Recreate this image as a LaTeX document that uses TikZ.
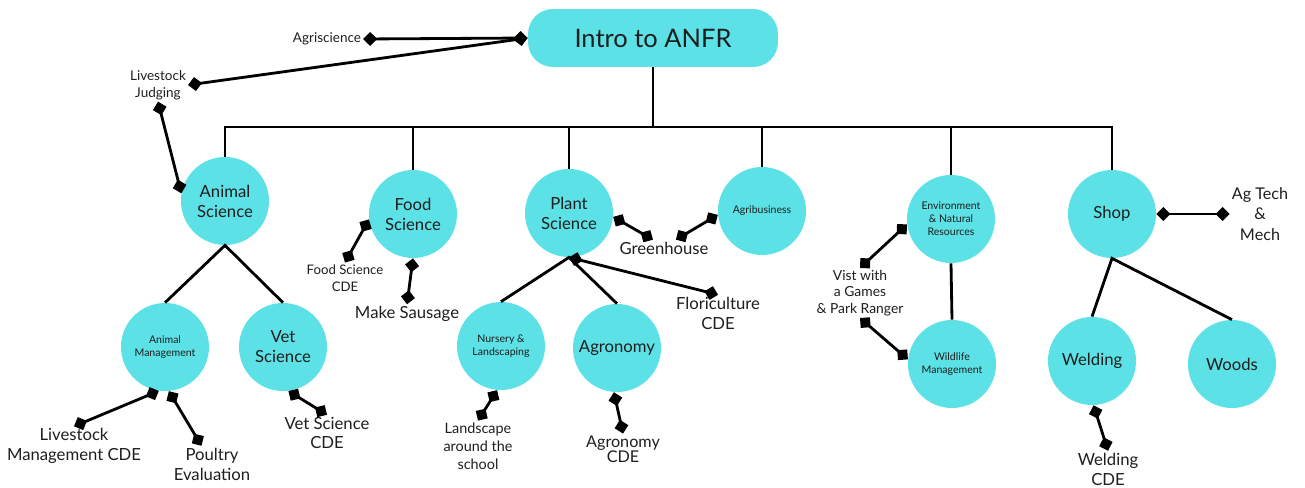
\documentclass[tikz,border=0pt]{standalone}
\usepackage{fontspec}
\setmainfont{Lato}
\usepackage{tikz}
\usetikzlibrary{arrows.meta}
\usetikzlibrary{calc}
\usetikzlibrary{positioning}

\definecolor{anfr}{HTML}{5CE1E6}
\definecolor{ink}{HTML}{1E1E1E}

\begin{document}
\begin{tikzpicture}[
	x=0.02cm, y=-0.02cm,
  hub/.style = {rectangle, rounded corners=0.5cm, fill=anfr, minimum width=5cm, minimum height=1.16cm, text=ink, font=\fontsize{14.5}{17}\selectfont},
  area/.style = {circle, fill=anfr, minimum size=1.76cm, inner sep=0pt, align=center, text=ink, font=\fontsize{9.5}{11.3}\selectfont},
  minor/.style = {area, font=\fontsize{6}{7.4}\selectfont},
  note/.style = {align=center, inner sep=1pt, text=ink, font=\fontsize{9.5}{11.3}\selectfont},
  small note/.style = {note, font=\fontsize{7.7}{9.4}\selectfont},
  trunk/.style = {line width=1.6pt},
  link/.style = {line width=1.6pt, {Diamond[length=8pt,width=8pt]}-{Diamond[length=8pt,width=8pt]}}
  ]
	\useasboundingbox (0,0) rectangle (1305,487);

	\node[hub] (anfr) at (653,38) {Intro to ANFR};

	\node[area]  (animal)   at (225,201)  {Animal\\Science};
	\node[area]  (food)     at (413,214)  {Food\\Science};
	\node[area]  (plant)    at (569,213)  {Plant\\Science};
	\node[minor] (agbiz)    at (762,211)  {Agribusiness};
	\node[minor] (env)      at (951,219)  {Environment\\\& Natural\\Resources};
	\node[area]  (shop)     at (1112,214) {Shop};
	\node[minor] (anmgmt)   at (165,347)  {Animal\\Management};
	\node[area]  (vet)      at (283,347)  {Vet\\Science};
	\node[minor] (nursery)  at (501,346)  {Nursery \&\\Landscaping};
	\node[area]  (agron)    at (617,348)  {Agronomy};
	\node[minor] (wildlife) at (952,364)  {Wildlife\\Management};
	\node[area]  (welding)  at (1092,361) {Welding};
	\node[area]  (woods)    at (1232,364) {Woods};

	% labels
	\node[small note] (agsci)  at (327,39)  {Agriscience};
	\node[small note] (ljudge) at (158,85)  {Livestock\\Judging};
	\node[small note, font=\fontsize{7.5}{9.6}\selectfont] (fscde) at (345,278) {Food Science\\CDE};
	\node[note] (sausage)   at (407,314)  {Make Sausage};
	\node[note] (greenhouse) at (664,248) {Greenhouse};
	\node[note] (flori)     at (718,313)  {Floriculture\\CDE};
	\node[note] (lmcde)     at (74,446)   {Livestock\\Management CDE};
	\node[note] (poultry)   at (212,464)  {Poultry\\Evaluation};
	\node[note] (vetcde)    at (327,433)  {Vet Science\\CDE};
	\node[note, font=\fontsize{8.2}{10.2}\selectfont] (landscape) at (478,446) {Landscape\\around the\\school};
	\node[note, font=\fontsize{9.2}{8.5}\selectfont] (agcde) at (623,449) {Agronomy\\CDE};
	\node[small note, font=\fontsize{7.9}{9.4}\selectfont] (vist) at (860,293) {Vist with\\a Games\\\& Park Ranger};
	\node[note, font=\fontsize{9.2}{11.6}\selectfont] (agtech) at (1260,214) {Ag Tech\\\&\\Mech};
	\node[note] (weldcde)   at (1108,469) {Welding\\CDE};

	% tree
	\coordinate (bar) at (653,127);
	\draw[trunk] (anfr.south) -- (anfr |- bar);
	\draw[trunk] (animal.north) |- (bar) -| (shop.north);
	\foreach \n in {food,plant,agbiz,env}
		\draw[trunk] (\n.north) -- (\n |- bar);
	\draw[trunk] (anmgmt.north) -- (animal.south) -- (vet.north);
	\draw[trunk] (nursery.north) -- (plant.south) -- (agron.north);
	\draw[trunk] (env.south) -- (wildlife.north);
	\draw[trunk] (welding.north) -- (shop.south) -- (woods.north);

	% diamond links
	\draw[link] (agsci.east) -- (anfr.west);
	\draw[link] (ljudge.east) -- (anfr.west);
	\draw[link] (ljudge.south) -- (animal.170);
	\draw[link] (food.187) -- (fscde.north);
	\draw[link] (food.south) -- (sausage.north);
	\draw[link] (plant.355) -- (greenhouse.143);
	\draw[link] (agbiz.185) -- (greenhouse.35);
	\draw[link] (plant.south) -- (flori.north);
	\draw[link] (anmgmt.262) -- (lmcde.north);
	\draw[link] (anmgmt.275) -- (poultry.120);
	\draw[link] (vet.277) -- (vetcde.north);
	\draw[link] (nursery.265) -- (landscape.north);
	\draw[link] (agron.266) -- (agcde.north);
	\draw[link] (env.187) -- (vist.north);
	\draw[link] (wildlife.174) -- (vist.south);
	\draw[link] (shop.east) -- (agtech.west);
	\draw[link] (welding.272) -- (weldcde.north);

\end{tikzpicture}
\end{document}
